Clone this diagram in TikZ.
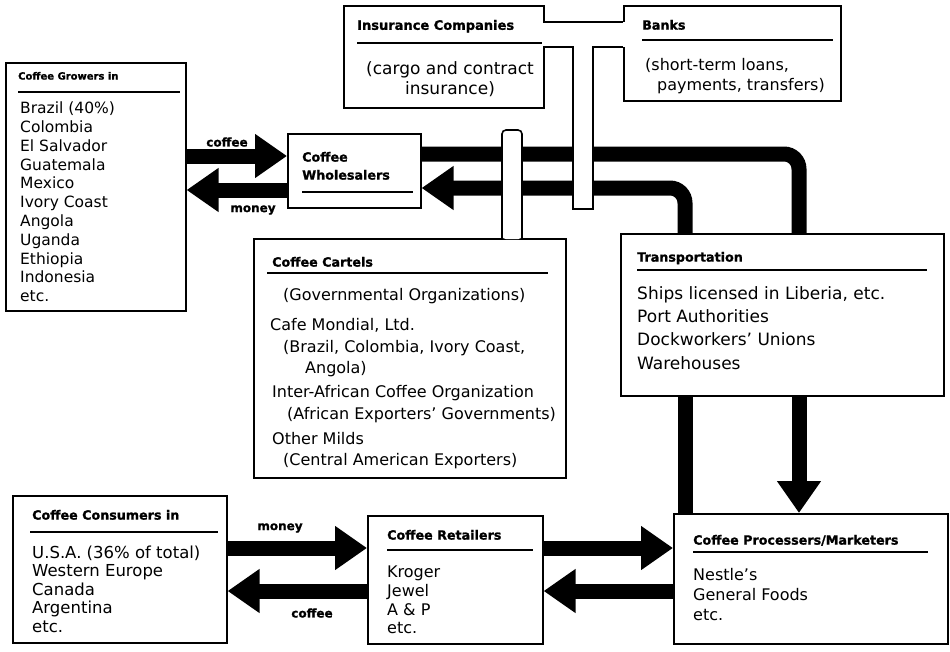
\documentclass[tikz,border=0pt]{standalone}
\usepackage{fontspec}
\setmainfont{DejaVu Sans}
\newfontfamily\hdfont{DejaVu Sans Bold}[FakeBold=1.2]
\usepackage{tikz}
\usetikzlibrary{arrows.meta}

\tikzset{
  box/.style={draw, line width=1.6pt, fill=white, anchor=north west, inner sep=0pt},
  ttl/.style={anchor=base west, inner sep=0pt, font=\hdfont\fontsize{12.7}{18}\selectfont},
  txt/.style={anchor=base west, inner sep=0pt, align=left, font=\fontsize{16}{19}\selectfont},
  lbl/.style={inner sep=0pt, font=\hdfont\fontsize{12}{14}\selectfont},
  rul/.style={line width=1.3pt},
  band/.style={line width=15pt},
  flow/.style={band, -{Triangle[length=32pt,width=42pt]}},
  pipe/.style={line width=1.6pt},
}

\begin{document}
\begin{tikzpicture}[x=1pt, y=-1pt]
        \useasboundingbox (0,0) rectangle (950,651);

        % Boxes
        \node[box, minimum width=180pt, minimum height=248pt] (grow) at (5,62) {};
        \node[box, minimum width=133pt, minimum height=74pt] (whol) at (287,133) {};
        \node[box, minimum width=200pt, minimum height=102pt] (ins) at (343,5) {};
        \node[box, minimum width=217pt, minimum height=95pt] (bank) at (623,5) {};
        \node[box, minimum width=312pt, minimum height=239pt] (cart) at (253,238) {};
        \node[box, minimum width=323pt, minimum height=162pt] (trans) at (620,233) {};
        \node[box, minimum width=214pt, minimum height=147pt] (cons) at (12,495) {};
        \node[box, minimum width=175pt, minimum height=128pt] (ret) at (367,515) {};
        \node[box, minimum width=274pt, minimum height=130pt] (proc) at (673,513) {};

        % Titles and rules
        \node[ttl, font=\hdfont\fontsize{10}{12}\selectfont] (grow-t) at (18,79.6) {Coffee Growers in};
        \draw[rul] (18,92) -- (180,92);
        \node[ttl, align=left] (whol-t) at (302,179.6) {Coffee\\Wholesalers};
        \draw[rul] (302,192) -- (413,192);
        \node[ttl, font=\hdfont\fontsize{13}{16}\selectfont] (ins-t) at (357,29.8) {Insurance Companies};
        \draw[rul] (357,43) -- (543,43);
        \node[ttl] (bank-t) at (642,29.6) {Banks};
        \draw[rul] (642,40) -- (833,40);
        \node[ttl] (cart-t) at (272,266.6) {Coffee Cartels};
        \draw[rul] (267,273) -- (548,273);
        \node[ttl] (trans-t) at (637,261.6) {Transportation};
        \draw[rul] (637,270) -- (927,270);
        \node[ttl] (cons-t) at (32,519.6) {Coffee Consumers in};
        \draw[rul] (30,532) -- (218,532);
        \node[ttl] (ret-t) at (387,539.6) {Coffee Retailers};
        \draw[rul] (387,550) -- (533,550);
        \node[ttl] (proc-t) at (693,544.6) {Coffee Processers/Marketers};
        \draw[rul] (693,552) -- (928,552);

        % Box texts (base = last line)
        \node[txt, font=\fontsize{15.5}{18.8}\selectfont] (grow-b) at (20,301.7)
          {Brazil (40\%)\\Colombia\\El Salvador\\Guatemala\\Mexico\\Ivory Coast\\Angola\\Uganda\\Ethiopia\\Indonesia\\etc.};
        \node[txt, anchor=base, align=center, font=\fontsize{17}{20}\selectfont] (ins-b) at (450,94.2)
          {(cargo and contract\\insurance)};
        \node[txt, font=\fontsize{16}{20}\selectfont] (bank-b) at (645,90.8) {(short-term loans,\\\hspace*{12pt}payments, transfers)};
        \node[txt, font=\fontsize{16}{21.5}\selectfont] (cart-b) at (270,465.8)
          {\hspace*{13pt}(Governmental Organizations)\\[8.5pt]
           Cafe Mondial, Ltd.\\
           \hspace*{13pt}(Brazil, Colombia, Ivory Coast,\\
           \hspace*{35pt}Angola)\\[2.5pt]
           \hspace*{2pt}Inter-African Coffee Organization\\
           \hspace*{17pt}(African Exporters' Governments)\\[3.5pt]
           \hspace*{2pt}Other Milds\\
           \hspace*{13pt}(Central American Exporters)};
        \node[txt, font=\fontsize{17}{23.3}\selectfont] (trans-b) at (637,369.1)
          {Ships licensed in Liberia, etc.\\Port Authorities\\Dockworkers' Unions\\Warehouses};
        \node[txt, font=\fontsize{16.5}{18.5}\selectfont] (cons-b) at (32,632)
          {U.S.A. (36\% of total)\\Western Europe\\Canada\\Argentina\\etc.};
        \node[txt, font=\fontsize{16}{18.7}\selectfont] (ret-b) at (387,633.9) {Kroger\\Jewel\\A \& P\\etc.};
        \node[txt, font=\fontsize{16}{20}\selectfont] (proc-b) at (693,620.8) {Nestle's\\General Foods\\etc.};

        % Levels
        \coordinate (ycof) at (0,156);
        \coordinate (ymon) at (0,190);
        \coordinate (yhi) at (0,154);
        \coordinate (ylo) at (0,188);
        \coordinate (ybuy) at (0,548);
        \coordinate (ysel) at (0,591);
        \coordinate (xlo) at (685,0);
        \coordinate (xhi) at (799,0);

        % Arrows
        \draw[flow] (grow.east |- ycof) -- (whol.west |- ycof);
        \draw[flow] (whol.west |- ymon) -- (grow.east |- ymon);
        \draw[band, rounded corners=15pt] (whol.east |- yhi) -| (xhi |- trans.north);
        \draw[flow, rounded corners=15pt] (xlo |- trans.north) |- (whol.east |- ylo);
        \draw[band] (xlo |- trans.south) -- (xlo |- proc.north);
        \draw[flow] (xhi |- trans.south) -- (xhi |- proc.north);
        \draw[flow] (cons.east |- ybuy) -- (ret.west |- ybuy);
        \draw[flow] (ret.west |- ysel) -- (cons.east |- ysel);
        \draw[flow] (ret.east |- ybuy) -- (proc.west |- ybuy);
        \draw[flow] (proc.west |- ysel) -- (ret.east |- ysel);

        \node[lbl] (cof-a) at (227,142) {coffee};
        \node[lbl] (mon-a) at (253,210) {money};
        \node[lbl] (mon-b) at (280,528) {money};
        \node[lbl] (cof-b) at (312,613) {coffee};

        % Pipes
        \fill[white] (541.5,22) rectangle (624.5,47);
        \fill[white] (573,47) rectangle (593,209);
        \draw[pipe] (543,22) -- (623,22);
        \draw[pipe] (543,47) -- (573,47) -- (573,209) -- (593,209) -- (593,47) -- (623,47);
        \fill[white, rounded corners=4pt] (502,239.2) -- (502,130) -- (522,130) -- (522,239.2) -- cycle;
        \draw[pipe, rounded corners=4pt] (502,238) -- (502,130) -- (522,130) -- (522,238);
    \end{tikzpicture}
\end{document}
